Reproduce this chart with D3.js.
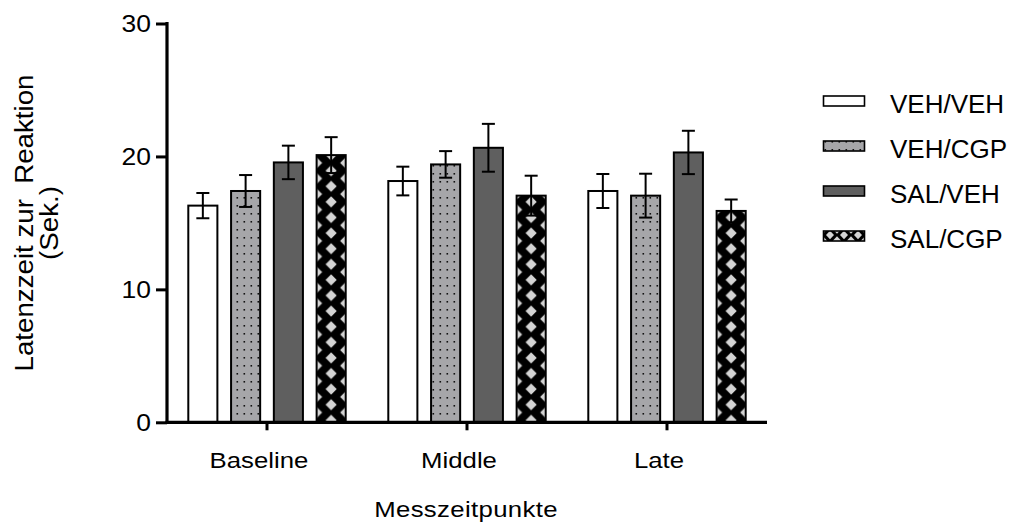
<!DOCTYPE html>
<html>
<head>
<meta charset="utf-8">
<script src="https://cdn.jsdelivr.net/npm/d3@7"></script>
<style>
  html, body { margin: 0; padding: 0; background: #fff; }
  svg { display: block; font-family: "Liberation Sans", Arial, sans-serif; }
</style>
</head>
<body>
<svg id="chart" width="1011" height="525"></svg>
<script>
// ---- data ----
const categories = ["Baseline", "Middle", "Late"];
const seriesNames = ["VEH/VEH", "VEH/CGP", "SAL/VEH", "SAL/CGP"];
const vehVehMean = [16.3, 18.15, 17.4];
const vehCgpMean = [17.4, 19.4, 17.05];
const salVehMean = [19.55, 20.65, 20.3];
const salCgpMean = [20.1, 17.05, 15.9];
const vehVehSem = [0.95, 1.08, 1.28];
const vehCgpSem = [1.2, 1.0, 1.65];
const salVehSem = [1.26, 1.8, 1.63];
const salCgpSem = [1.35, 1.5, 0.86];
const yTicks = [0, 10, 20, 30];
const yTitleLines = ["Latenzzeit zur  Reaktion", "(Sek.)"];
const xTitle = "Messzeitpunkte";

const means = [vehVehMean, vehCgpMean, salVehMean, salCgpMean];
const sems = [vehVehSem, vehCgpSem, salVehSem, salCgpSem];

// ---- layout ----
const svg = d3.select("#chart");
const defs = svg.append("defs");
const x0 = 167, x1 = 767, yBase = 422.3, yTop = 23.5;
const FONT = "Liberation Sans, Arial, sans-serif";

const xGroup = d3.scaleBand().domain(categories).range([x0, x1]).padding(0);
const xInner = d3.scaleBand().domain(seriesNames).range([-78.7, 78.7]).paddingInner(0.32).paddingOuter(0);
const y = d3.scaleLinear().domain([0, 30]).range([yBase, yTop]);
const bw = xInner.bandwidth();

// patterns
function dotPattern(id) {
  const p = defs.append("pattern").attr("id", id).attr("patternUnits", "userSpaceOnUse")
    .attr("width", 7).attr("height", 8).attr("x", 3).attr("y", 2);
  p.append("rect").attr("width", 7).attr("height", 8).attr("fill", "#a6a6a9");
  p.append("rect").attr("x", 2.5).attr("y", 3).attr("width", 1.6).attr("height", 1.6).attr("fill", "#111");
}
function crossPattern(id, px, py, w, h, dx, dy) {
  const p = defs.append("pattern").attr("id", id).attr("patternUnits", "userSpaceOnUse")
    .attr("width", w).attr("height", h).attr("x", px).attr("y", py);
  p.append("rect").attr("width", w).attr("height", h).attr("fill", "#000");
  const centers = [[w / 2, 0], [w / 2, h], [0, h / 2], [w, h / 2]];
  centers.forEach(([cx, cy]) => {
    p.append("polygon")
      .attr("points", `${cx - dx},${cy} ${cx},${cy - dy} ${cx + dx},${cy} ${cx},${cy + dy}`)
      .attr("fill", "#d4d4d4");
  });
}
dotPattern("dots");

const fills = ["#ffffff", "url(#dots)", "#5f5f5f", null];

// ---- bars ----
const bars = [];
categories.forEach((c, gi) => {
  seriesNames.forEach((s, si) => {
    bars.push({ cat: c, series: s, si, gi, v: means[si][gi], e: sems[si][gi] });
  });
});
const bx = d => xGroup(d.cat) + xGroup.bandwidth() / 2 + xInner(d.series);

bars.forEach(d => {
  if (d.si === 3) crossPattern("cross" + d.gi, bx(d), yBase - 2, bw, 15.6, 5.6, 5.6);
});

const gBars = svg.append("g");
gBars.selectAll("rect.bar").data(bars).join("rect")
  .attr("class", "bar")
  .attr("x", bx)
  .attr("y", d => y(d.v))
  .attr("width", bw)
  .attr("height", d => yBase - y(d.v))
  .attr("fill", d => d.si === 3 ? `url(#cross${d.gi})` : fills[d.si])
  .attr("stroke", "#000").attr("stroke-width", 2);

// error bars
const gErr = svg.append("g").attr("stroke", "#000").attr("stroke-width", 2);
const cx = d => bx(d) + bw / 2;
gErr.selectAll("line.v").data(bars).join("line").attr("class", "v")
  .attr("x1", cx).attr("x2", cx)
  .attr("y1", d => y(d.v + d.e)).attr("y2", d => y(d.v - d.e));
gErr.selectAll("line.t").data(bars).join("line").attr("class", "t")
  .attr("x1", d => cx(d) - 6.5).attr("x2", d => cx(d) + 6.5)
  .attr("y1", d => y(d.v + d.e)).attr("y2", d => y(d.v + d.e));
gErr.selectAll("line.b").data(bars).join("line").attr("class", "b")
  .attr("x1", d => cx(d) - 6.5).attr("x2", d => cx(d) + 6.5)
  .attr("y1", d => y(d.v - d.e)).attr("y2", d => y(d.v - d.e));

// ---- axes ----
const yAxis = d3.axisLeft(y).tickValues(yTicks).tickSize(11).tickPadding(0).tickFormat(d3.format("d"));
const gy = svg.append("g").attr("transform", `translate(${x0},0)`).call(yAxis);
gy.select(".domain").attr("stroke-width", 3.2).attr("d", `M0,${yTop - 1.5}V${yBase + 1.5}`);
gy.selectAll(".tick line").attr("stroke-width", 3);
gy.selectAll(".tick text")
  .attr("font-size", 23).attr("x", 0).attr("y", 0).attr("dy", "0.36em")
  .attr("transform", "translate(-16,0) scale(1.15,1)")
  .attr("font-family", FONT).attr("fill", "#000");

const xAxis = d3.axisBottom(xGroup).tickSize(8).tickPadding(0);
const gx = svg.append("g").attr("transform", `translate(0,${yBase})`).call(xAxis);
gx.select(".domain").attr("stroke-width", 3.2).attr("d", `M${x0 - 1.5},0H${x1}`);
gx.selectAll(".tick line").attr("stroke-width", 3);
gx.selectAll(".tick text")
  .attr("font-size", 23).attr("x", 0).attr("y", 0).attr("dy", 0)
  .attr("transform", "translate(-8,45.5) scale(1.12,1)")
  .attr("font-family", FONT).attr("fill", "#000");

// axis titles
svg.append("text").attr("transform", "translate(466,516.5) scale(1.12,1)").attr("text-anchor", "middle")
  .attr("font-size", 23).attr("letter-spacing", "0.3px").attr("fill", "#000").text(xTitle);

const yt = svg.append("g").attr("transform", "translate(0,223) rotate(-90)");
yTitleLines.forEach((t, i) => {
  yt.append("text").attr("transform", `translate(0,${32.5 + i * 25.5}) scale(1.065,1)`).attr("text-anchor", "middle")
    .attr("font-size", 26).attr("fill", "#000")
    .style("white-space", "pre").attr("xml:space", "preserve").text(t);
});

// ---- legend ----
crossPattern("crossLeg", 823, 92, 14, 11, 4, 4.2);
const legFills = ["#ffffff", "url(#dots)", "#5f5f5f", "url(#crossLeg)"];
const gLeg = svg.append("g");
seriesNames.forEach((s, i) => {
  const cy = 103.5 + i * 45;
  gLeg.append("rect").attr("x", 823.5).attr("y", cy - 7.5).attr("width", 41).attr("height", 10)
    .attr("fill", legFills[i]).attr("stroke", "#000").attr("stroke-width", 1.6);
  gLeg.append("text").attr("x", 890).attr("y", cy + 9.5).attr("font-size", 26).attr("fill", "#000").text(s);
});
</script>
</body>
</html>
